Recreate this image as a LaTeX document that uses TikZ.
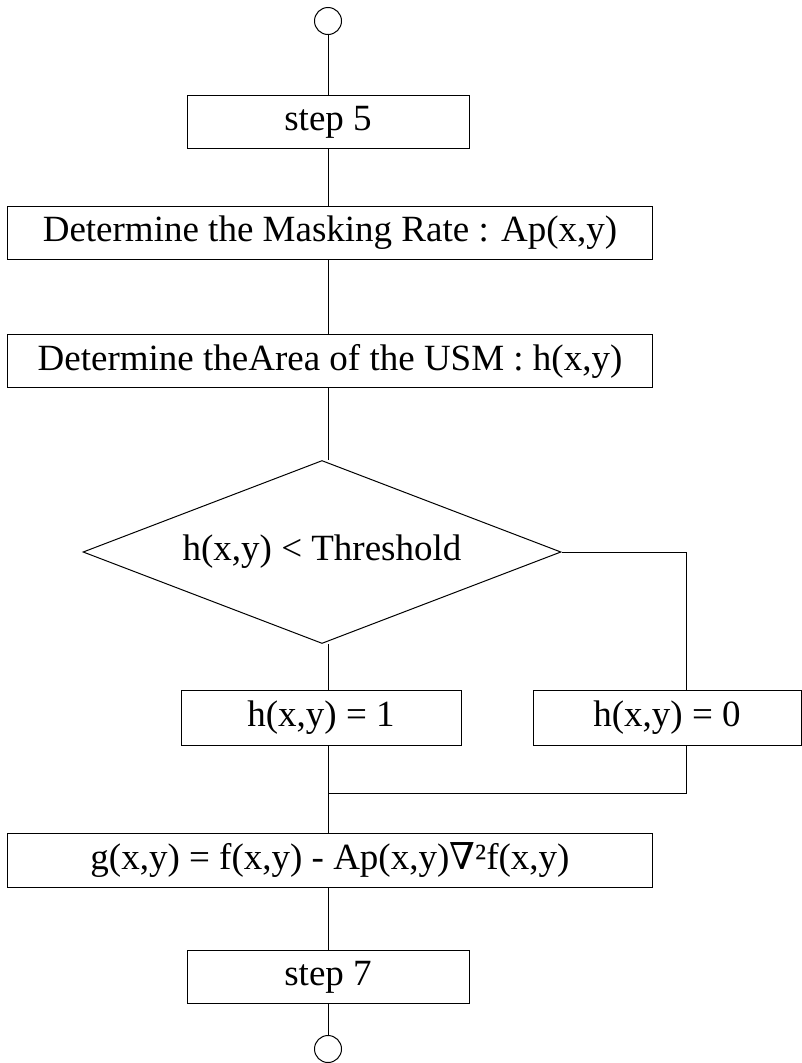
\documentclass[tikz,border=0pt]{standalone}
\usepackage{fontspec}
\setmainfont{Liberation Serif}
\newfontfamily\nablafont{DejaVu Serif}
\usetikzlibrary{shapes.geometric}
\tikzstyle{block}=[rectangle, draw, line width=1pt, inner sep=0pt, minimum height=53pt]
\tikzstyle{term}=[circle, draw, line width=1pt, inner sep=0pt, minimum size=27pt]
\tikzstyle{test}=[diamond, draw, line width=1pt, inner sep=0pt, aspect=2.6, minimum width=478pt, minimum height=183pt]
\newcommand{\block}{\node[block]}

\begin{document}
\begin{tikzpicture}[x=1pt, y=-1pt, line width=1pt
    ,every node/.style={font=\fontsize{37}{43}\selectfont}
]
\useasboundingbox (0,0) rectangle (801,1063);
\node[term] (start) at (328,21) {};
\block[minimum width=282pt] (s5) at (328,122) {step 5};
\block[minimum width=645pt] (mask) at (330,233) {Determine the Masking Rate : Ap(x,y)};
\block[minimum width=645pt] (area) at (330,361) {Determine theArea of the USM : h(x,y)};
\node[test] (dec) at (322,552) {h(x,y) < Threshold};
\block[minimum width=280pt, minimum height=55pt] (h1) at (321,718) {h(x,y) = 1};
\block[minimum width=268pt, minimum height=55pt] (h0) at (667,718) {h(x,y) = 0};
\block[minimum width=645pt, minimum height=54pt] (g) at (330,860) {g(x,y) = f(x,y) - Ap(x,y){\nablafont ∇}²f(x,y)};
\block[minimum width=282pt] (s7) at (328,977) {step 7};
\node[term] (stop) at (328,1049) {};
\coordinate (join) at (328,793);
\draw
(start) -- (s5)
(s5) -- (328,0 |- mask.north)
(328,0 |- mask.south) -- (328,0 |- area.north)
(328,0 |- area.south) -- (328,0 |- dec.north)
(328,0 |- dec.south) -- (328,0 |- h1.north)
(dec.east) -| (686,0 |- h0.north)
(328,0 |- h1.south) -- (328,0 |- g.north)
(686,0 |- h0.south) |- (join)
(328,0 |- g.south) -- (s7.north)
(s7.south) -- (stop)
;
\end{tikzpicture}
\end{document}
